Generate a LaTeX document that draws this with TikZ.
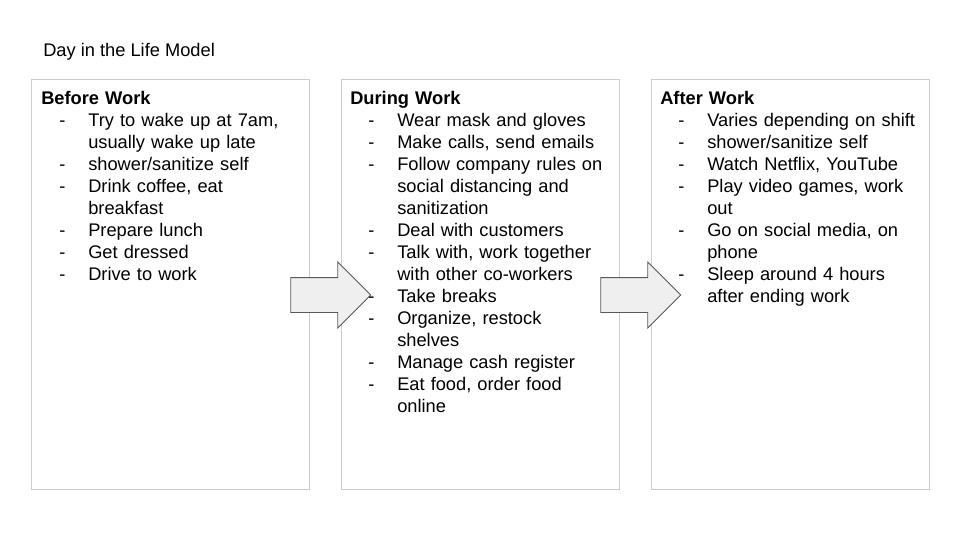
\documentclass[tikz,border=0pt]{standalone}
\usepackage{fontspec}
\setmainfont{Liberation Sans}
\usetikzlibrary{shapes.arrows}

\definecolor{panelgray}{HTML}{CCCCCC}
\definecolor{arrowfill}{HTML}{EFEFEF}
\definecolor{arrowline}{HTML}{595959}

% one line of a list: dash, then text with hanging indent
\newcommand{\dashitem}[1]{\par\noindent\hangindent=35.25pt\hangafter=1\hspace*{13.5pt}\makebox[21.75pt][l]{-}#1}

\tikzset{
    panel/.style={draw=panelgray, line width=0.75pt, minimum width=208.5pt, minimum height=307.5pt, inner sep=0pt},
    flowarrow/.style={single arrow, draw=arrowline, fill=arrowfill, line width=0.6pt,
        inner xsep=0pt, inner ysep=12.75pt, minimum height=60pt, single arrow head extend=11.6pt,
        single arrow head indent=0pt},
    listtext/.style={anchor=north west, inner sep=0pt, text width=230pt, align=left,
        font=\fontsize{13.7}{16.5}\selectfont}
}

\begin{document}
\begin{tikzpicture}[x=0.75pt, y=-0.75pt]
        \useasboundingbox (0,0) rectangle (960,540);

        % Title
        \node[anchor=base west, inner sep=0pt, font=\fontsize{13.7}{16.5}\selectfont] (title) at (43,56) {Day in the Life Model};

        % Boxes
        \node[panel] (before) at (170,284) {};
        \node[panel] (during) at (480,284) {};
        \node[panel] (after) at (790,284) {};

        % Arrows
        \node[flowarrow] (arrow1) at (322,295) {};
        \node[flowarrow] (arrow2) at (632,295) {};

        % Lists
        \node[listtext] (beforelist) at (41,88.6) {\noindent\strut\textbf{Before Work}
            \dashitem{Try to wake up at 7am,\newline usually wake up late}
            \dashitem{shower/sanitize self}
            \dashitem{Drink coffee, eat\newline breakfast}
            \dashitem{Prepare lunch}
            \dashitem{Get dressed}
            \dashitem{Drive to work}\par};
        \node[listtext] (duringlist) at (350,88.6) {\noindent\strut\textbf{During Work}
            \dashitem{Wear mask and gloves}
            \dashitem{Make calls, send emails}
            \dashitem{Follow company rules on\newline social distancing and\newline sanitization}
            \dashitem{Deal with customers}
            \dashitem{Talk with, work together\newline with other co-workers}
            \dashitem{Take breaks}
            \dashitem{Organize, restock\newline shelves}
            \dashitem{Manage cash register}
            \dashitem{Eat food, order food\newline online}\par};
        \node[listtext] (afterlist) at (660,88.6) {\noindent\strut\textbf{After Work}
            \dashitem{Varies depending on shift}
            \dashitem{shower/sanitize self}
            \dashitem{Watch Netflix, YouTube}
            \dashitem{Play video games, work\newline out}
            \dashitem{Go on social media, on\newline phone}
            \dashitem{Sleep around 4 hours\newline after ending work}\par};
    \end{tikzpicture}
\end{document}
